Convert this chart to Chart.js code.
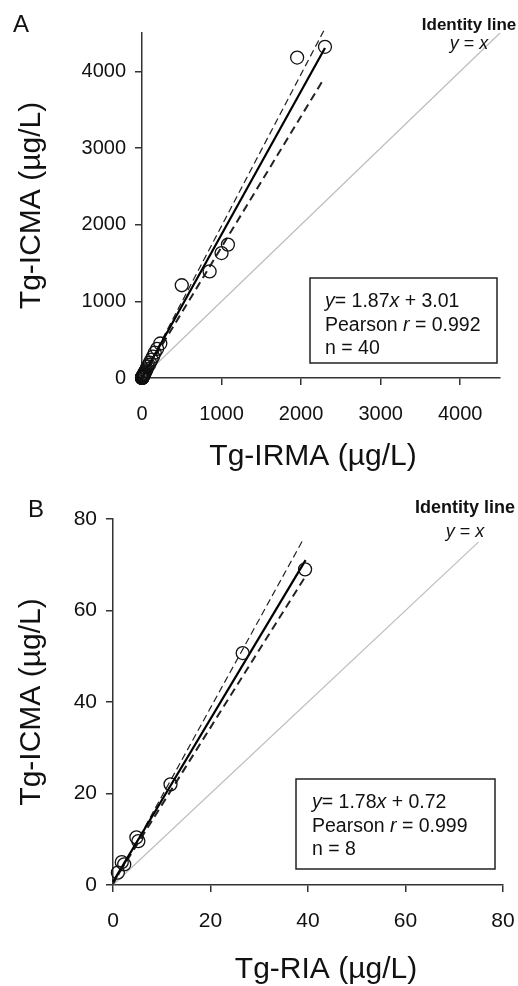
<!DOCTYPE html>
<html>
<head>
<meta charset="utf-8">
<script src="https://cdn.jsdelivr.net/npm/chart.js@4.4.0/dist/chart.umd.min.js"></script>
<style>
  html, body { margin: 0; padding: 0; background: #fff; }
  canvas { position: absolute; left: 0; }
  #chartA { top: 0; }
  #chartB { top: 480px; }
</style>
</head>
<body>
<canvas id="chartA" width="518" height="480"></canvas>
<canvas id="chartB" width="518" height="506"></canvas>
<script>
const FONT = "'Liberation Sans', Arial, sans-serif";

// Panel A: Tg-IRMA vs Tg-ICMA (n = 40)
const irmaA = [2300, 1950, 1080, 1000, 850, 500, 230, 190, 160, 140, 120, 100, 85, 70, 60, 50, 42, 35, 30, 25,
  20, 17, 14, 12, 10, 8, 7, 6, 5, 4, 3.5, 3, 2.5, 2, 1.5, 1.2, 1, 0.8, 0.5, 0.3];
const icmaA = [4320, 4180, 1740, 1630, 1390, 1210, 450, 380, 330, 280, 240, 200, 170, 150, 120, 100, 85, 70, 60, 50,
  40, 34, 28, 25, 20, 16, 14, 12, 10, 8, 7, 6, 5, 4, 3, 2.5, 2, 1.6, 1, 0.6];
const fitA = [[0, 3], [2300, 4304]];
const upperA = [[0, 0], [2290, 4540]];
const lowerA = [[0, 0], [2290, 3910]];
const identityA = [[0, 0], [4500, 4500]];
const ticksA = [0, 1000, 2000, 3000, 4000];

// Panel B: Tg-RIA vs Tg-ICMA (n = 8)
const riaB = [1, 1.8, 2.3, 4.8, 5.2, 11.8, 26.6, 39.4];
const icmaB = [2.7, 5.0, 4.5, 10.4, 9.6, 22, 50.7, 69];
const fitB = [[0, 0.72], [39.5, 71]];
const upperB = [[0, 0], [39, 75.5]];
const lowerB = [[0, 0.5], [39.5, 67.5]];
const identityB = [[0, 0], [75, 75]];
const ticksB = [0, 20, 40, 60, 80];

function drawRuns(ctx, runs, x, y, size, center) {
  const fontFor = it => (it ? 'italic ' : '') + size + 'px ' + FONT;
  let total = 0;
  runs.forEach(r => { ctx.font = fontFor(r[1]); total += ctx.measureText(r[0]).width; });
  let cx = center ? x - total / 2 : x;
  ctx.textAlign = 'left';
  runs.forEach(r => {
    ctx.font = fontFor(r[1]);
    ctx.fillText(r[0], cx, y);
    cx += ctx.measureText(r[0]).width;
  });
}

const panelText = {
  id: 'panelText',
  afterDraw(chart, args, o) {
    const ctx = chart.ctx;
    ctx.save();
    ctx.fillStyle = '#111';
    ctx.textBaseline = 'alphabetic';

    ctx.textAlign = 'left';
    ctx.font = '24px ' + FONT;
    ctx.fillText(o.letter, o.letterPos[0], o.letterPos[1]);

    ctx.textAlign = 'center';
    ctx.font = 'bold ' + o.idSize + 'px ' + FONT;
    ctx.fillText('Identity line', o.idPos[0], o.idPos[1]);
    drawRuns(ctx, [['y', 1], [' = ', 0], ['x', 1]], o.idPos[0], o.idPos[1] + o.idGap, 18, true);

    ctx.strokeStyle = '#222';
    ctx.lineWidth = 1.5;
    ctx.strokeRect(o.box[0], o.box[1], o.box[2], o.box[3]);
    o.stats.forEach((runs, i) => drawRuns(ctx, runs, o.statsPos[0], o.statsPos[1] + i * 23.5, 19.5, false));

    ctx.textAlign = 'center';
    ctx.font = '30px ' + FONT;
    ctx.fillText(o.xTitle, o.xTitlePos[0], o.xTitlePos[1]);
    ctx.restore();
  }
};

function lineSet(pts, color, width, dash) {
  return {
    data: pts.map(p => ({ x: p[0], y: p[1] })),
    showLine: true,
    borderColor: color,
    borderWidth: width,
    borderDash: dash,
    pointRadius: 0,
    fill: false,
    clip: false
  };
}

function axis(max, ticks, size, padding, fit) {
  return {
    type: 'linear',
    min: 0,
    max: max,
    afterBuildTicks: a => { a.ticks = ticks.map(v => ({ value: v })); },
    afterFit: fit,
    grid: { drawOnChartArea: false, drawTicks: true, tickLength: 7, color: '#333', lineWidth: 1.5 },
    border: { color: '#333', width: 1.5 },
    ticks: {
      color: '#111',
      font: { family: FONT, size: size },
      padding: padding,
      autoSkip: false,
      maxRotation: 0,
      callback: v => String(v)
    }
  };
}

function makeChart(id, c) {
  return new Chart(document.getElementById(id), {
    type: 'scatter',
    data: {
      datasets: [
        {
          data: c.xs.map((x, i) => ({ x: x, y: c.ys[i] })),
          pointRadius: 6.5,
          pointBorderColor: '#111',
          pointBorderWidth: 1.3,
          pointBackgroundColor: 'rgba(0,0,0,0)',
          showLine: false,
          clip: false
        },
        lineSet(c.fit, '#000', 2.2, []),
        lineSet(c.lower, '#222', 2, [8, 5]),
        lineSet(c.upper, '#222', 1.2, [7, 4]),
        lineSet(c.identity, '#bdbdbd', 1.2, [])
      ]
    },
    options: {
      responsive: false,
      animation: false,
      layout: { padding: { top: c.padTop, right: c.padRight, left: 0, bottom: 0 } },
      plugins: {
        legend: { display: false },
        tooltip: { enabled: false },
        panelText: c.text
      },
      scales: {
        x: axis(c.max, c.ticks, c.tickSize, 17, a => {
          a.height = c.xHeight;
          a.paddingLeft = 0;
          a.paddingRight = 0;
        }),
        y: Object.assign(axis(c.max, c.ticks, c.tickSize, 9, a => {
          a.width = c.yWidth;
          a.paddingTop = 0;
          a.paddingBottom = 0;
        }), {
          title: {
            display: true,
            text: 'Tg-ICMA (µg/L)',
            color: '#111',
            font: { family: FONT, size: 30 },
            padding: { top: 14, bottom: 0 }
          }
        })
      }
    },
    plugins: [panelText]
  });
}

makeChart('chartA', {
  xs: irmaA, ys: icmaA, fit: fitA, upper: upperA, lower: lowerA, identity: identityA,
  max: 4500, ticks: ticksA, tickSize: 20,
  padTop: 33, padRight: 18, xHeight: 102, yWidth: 142,
  text: {
    letter: 'A', letterPos: [13, 32],
    idPos: [469, 30], idGap: 19, idSize: 17,
    box: [310, 278, 187, 85], statsPos: [325, 307],
    stats: [
      [['y', 1], ['= 1.87', 0], ['x', 1], [' + 3.01', 0]],
      [['Pearson ', 0], ['r', 1], [' = 0.992', 0]],
      [['n = 40', 0]]
    ],
    xTitle: 'Tg-IRMA (µg/L)', xTitlePos: [313, 465]
  }
});

makeChart('chartB', {
  xs: riaB, ys: icmaB, fit: fitB, upper: upperB, lower: lowerB, identity: identityB,
  max: 80, ticks: ticksB, tickSize: 21,
  padTop: 39, padRight: 15, xHeight: 101, yWidth: 113,
  text: {
    letter: 'B', letterPos: [28, 37],
    idPos: [465, 33], idGap: 24, idSize: 18,
    box: [296, 299, 199, 90], statsPos: [312, 328],
    stats: [
      [['y', 1], ['= 1.78', 0], ['x', 1], [' + 0.72', 0]],
      [['Pearson ', 0], ['r', 1], [' = 0.999', 0]],
      [['n = 8', 0]]
    ],
    xTitle: 'Tg-RIA (µg/L)', xTitlePos: [326, 498]
  }
});
</script>
</body>
</html>
